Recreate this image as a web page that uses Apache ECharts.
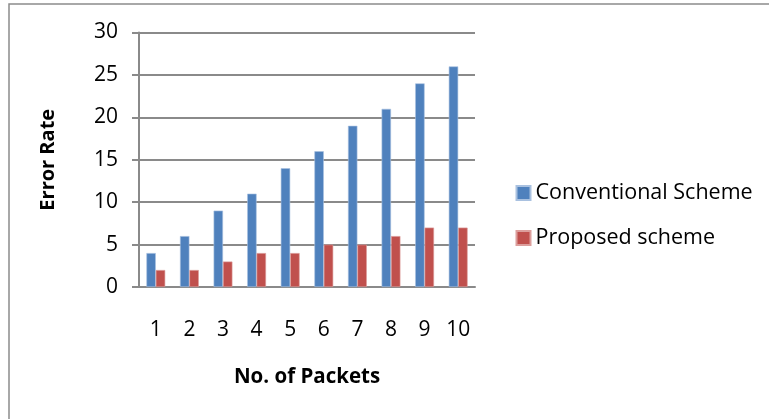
<!DOCTYPE html>
<html>
<head>
<meta charset="utf-8">
<script src="https://cdn.jsdelivr.net/npm/echarts@6/dist/echarts.min.js"></script>
<style>
  html, body { margin: 0; padding: 0; background: #fff; }
  #chart { width: 769px; height: 419px; }
</style>
</head>
<body>
<div id="chart"></div>
<script>
// Packet counts and error rates for the two schemes
const packets = ['1', '2', '3', '4', '5', '6', '7', '8', '9', '10'];
const conventional = [4, 6, 9, 11, 14, 16, 19, 21, 24, 26];
const proposed = [2, 2, 3, 4, 4, 5, 5, 6, 7, 7];
const seriesNames = ['Conventional Scheme', 'Proposed scheme'];

const FONT = '"Open Sans", "Liberation Sans", sans-serif';
const GRID_GRAY = '#8a8a8a';

const chart = echarts.init(document.getElementById('chart'), null, { renderer: 'canvas' });

chart.setOption({
  backgroundColor: '#fff',
  animation: false,
  graphic: [{
    type: 'rect',
    shape: { x: 9, y: 4, width: 800, height: 460 },
    style: { fill: 'none', stroke: '#8c8c8c', lineWidth: 1.5 },
    silent: true
  }],
  grid: { left: 139, right: 294, top: 32.5, bottom: 132, containLabel: false },
  legend: {
    orient: 'vertical',
    left: 515.5,
    top: 182,
    padding: 0,
    itemWidth: 14,
    itemHeight: 14,
    itemGap: 23,
    icon: 'rect',
    textStyle: { fontFamily: FONT, fontSize: 21.5, color: '#000' },
    data: seriesNames
  },
  xAxis: {
    type: 'category',
    data: packets,
    name: 'No. of Packets',
    nameLocation: 'middle',
    nameGap: 80,
    nameTextStyle: { fontFamily: FONT, fontSize: 20.5, fontWeight: 'bold', color: '#000' },
    axisLine: { lineStyle: { color: GRID_GRAY, width: 2 } },
    axisTick: { show: false },
    axisLabel: { fontFamily: FONT, fontSize: 21, color: '#000', margin: 33 }
  },
  yAxis: {
    type: 'value',
    min: 0,
    max: 30,
    interval: 5,
    name: 'Error Rate',
    nameLocation: 'middle',
    nameGap: 81,
    nameRotate: 90,
    nameTextStyle: { fontFamily: FONT, fontSize: 20, fontWeight: 'bold', color: '#000' },
    axisLine: { show: true, lineStyle: { color: GRID_GRAY, width: 2 } },
    axisTick: { show: true, length: 7, lineStyle: { color: GRID_GRAY, width: 2 } },
    axisLabel: { fontFamily: FONT, fontSize: 21, color: '#000', margin: 21 },
    splitLine: { lineStyle: { color: GRID_GRAY, width: 2 } }
  },
  series: [
    {
      name: seriesNames[0],
      type: 'bar',
      data: conventional,
      barWidth: '28%',
      barGap: '0%',
      itemStyle: { color: '#4F81BD', borderColor: '#a9c1e0', borderWidth: 0.6 }
    },
    {
      name: seriesNames[1],
      type: 'bar',
      data: proposed,
      barWidth: '28%',
      barGap: '0%',
      itemStyle: { color: '#C0504D', borderColor: '#dc9e9c', borderWidth: 0.6 }
    }
  ]
});
</script>
</body>
</html>
